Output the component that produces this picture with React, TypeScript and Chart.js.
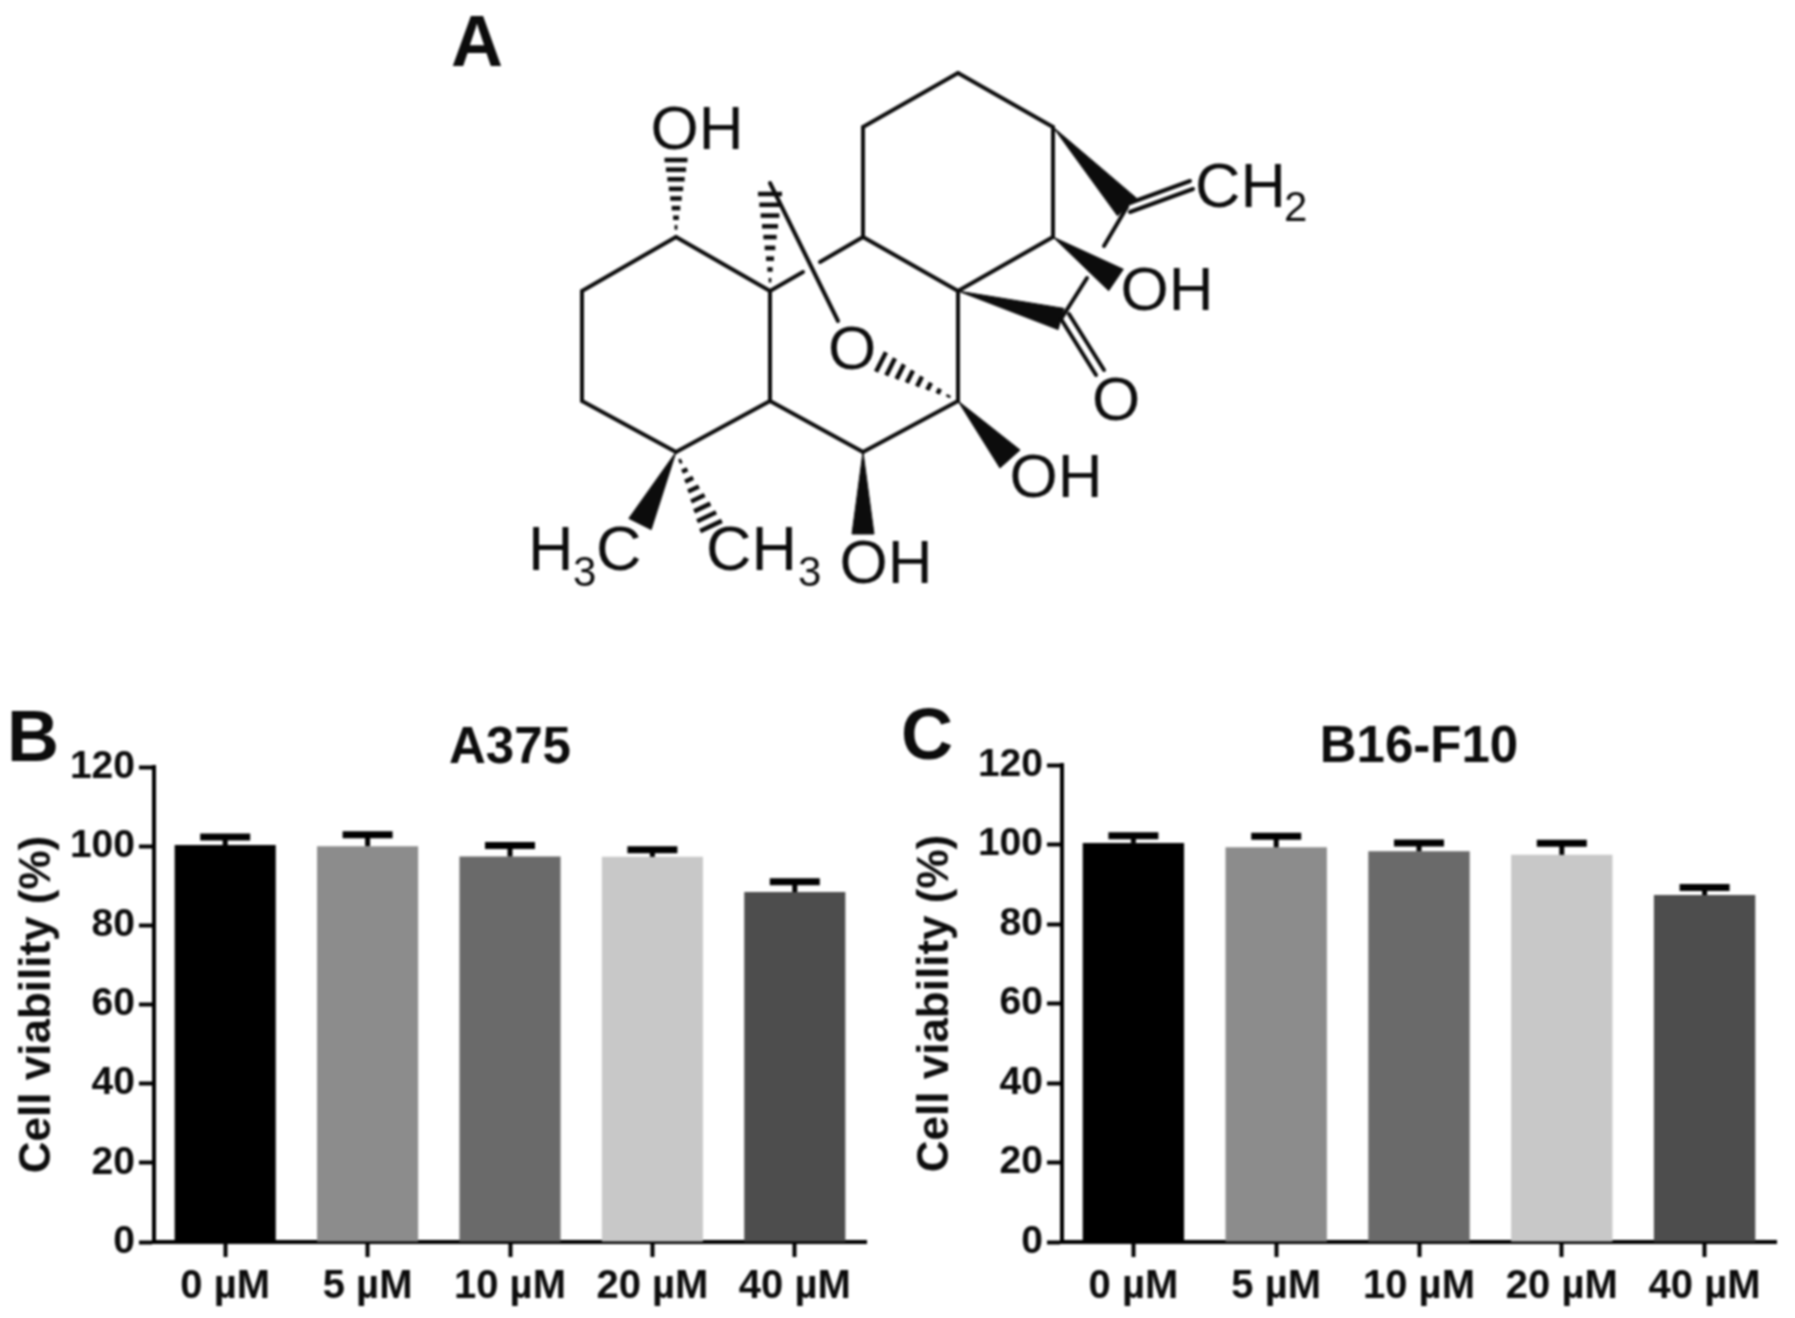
import React, { useEffect, useRef } from "react";
import { Chart, registerables } from "chart.js";

Chart.register(...registerables);

const categories = ["0 µM", "5 µM", "10 µM", "20 µM", "40 µM"];
const yTicks = [0, 20, 40, 60, 80, 100, 120];
const barColors = ["#000000", "#8c8c8c", "#6a6a6a", "#c8c8c8", "#4d4d4d"];
const a375Means = [100.3, 100, 97.4, 97.3, 88.4];
const a375Upper = [102.3, 102.9, 100.2, 99.1, 91];
const b16Means = [100.4, 99.3, 98.3, 97.4, 87.3];
const b16Upper = [102.2, 102.1, 100.4, 100.3, 89.2];

const FONT = '"Liberation Sans", Arial, sans-serif';
const INK = "#0c0c0c";

type P = [number, number];
const atoms: Record<string, P> = {
  a1: [676, 237], a2: [582, 291], a3: [582, 401], a4: [676, 452], a5: [770, 401], a6: [770, 291],
  a7: [863, 452], a8: [958, 401], a9: [958, 291], a10: [863, 237], a11: [863, 127], a12: [958, 73],
  a13: [1053, 127], a14: [1053, 237], a15: [1127, 207], a16: [1061, 319],
  gapA: [803, 272], gapB: [820, 262], apex: [770, 183], oTop: [838, 321],
  g15: [1104, 246], g16: [1087, 278],
  oBondA: [1061, 319], oBondB: [1096, 375], oBondC: [1069, 314], oBondD: [1104, 370],
  chA: [1127, 204], chB: [1190, 181], chC: [1130, 212], chD: [1193, 189],
  hashOH: [676, 160], hashMe: [770, 194], hashO: [881, 362], hashCH3: [711, 526],
  wOH2: [1116, 280], wOH3: [1010, 459], wOH4: [863, 534], wH3C: [640, 524],
};
const bonds: [string, string][] = [
  ["a1", "a2"], ["a2", "a3"], ["a3", "a4"], ["a4", "a5"], ["a5", "a6"], ["a6", "a1"], ["a5", "a7"],
  ["a7", "a8"], ["a8", "a9"], ["a9", "a10"], ["a10", "a11"], ["a11", "a12"], ["a12", "a13"],
  ["a13", "a14"], ["a14", "a9"], ["a6", "gapA"], ["gapB", "a10"], ["apex", "oTop"], ["a15", "g15"],
  ["g16", "a16"], ["oBondA", "oBondB"], ["oBondC", "oBondD"], ["chA", "chB"], ["chC", "chD"],
];
const wedges: [string, string, number][] = [
  ["a13", "a15", 26], ["a14", "wOH2", 26], ["a9", "a16", 22], ["a8", "wOH3", 27], ["a7", "wOH4", 22], ["a4", "wH3C", 25],
];
const hashes: [string, string, number, number][] = [
  ["a1", "hashOH", 23, 8], ["a6", "hashMe", 24, 9], ["a8", "hashO", 22, 8], ["a4", "hashCH3", 24, 8],
];
const labels: { text: string; x: number; y: number; size: number; bold?: boolean; align?: CanvasTextAlign }[] = [
  { text: "A", x: 477, y: 66, size: 72, bold: true },
  { text: "OH", x: 697, y: 149, size: 62 },
  { text: "CH", x: 1195, y: 207, size: 63, align: "left" },
  { text: "2", x: 1284, y: 221, size: 42, align: "left" },
  { text: "OH", x: 1167, y: 310, size: 62 },
  { text: "O", x: 852, y: 369, size: 62 },
  { text: "O", x: 1116, y: 420, size: 62 },
  { text: "OH", x: 1056, y: 497, size: 62 },
  { text: "OH", x: 886, y: 583, size: 62 },
  { text: "H", x: 528, y: 570, size: 63, align: "left" },
  { text: "3", x: 573, y: 586, size: 42, align: "left" },
  { text: "C", x: 596, y: 570, size: 63, align: "left" },
  { text: "CH", x: 706, y: 570, size: 63, align: "left" },
  { text: "3", x: 798, y: 586, size: 42, align: "left" },
];

function normal(p: P, q: P): P {
  const dx = q[0] - p[0], dy = q[1] - p[1], l = Math.hypot(dx, dy);
  return [-dy / l, dx / l];
}

function moleculeDatasets() {
  const base = { showLine: true, pointRadius: 0, borderColor: INK, borderWidth: 4, clip: false };
  const sets: any[] = [];
  for (const [a, b] of bonds) {
    const p = atoms[a], q = atoms[b];
    sets.push({ ...base, borderCapStyle: "round", data: [{ x: p[0], y: p[1] }, { x: q[0], y: q[1] }] });
  }
  for (const [a, b, w] of wedges) {
    const p = atoms[a], q = atoms[b], n = normal(p, q);
    sets.push({
      ...base, borderWidth: 1, backgroundColor: INK, fill: "shape",
      data: [
        { x: p[0], y: p[1] },
        { x: q[0] + (n[0] * w) / 2, y: q[1] + (n[1] * w) / 2 },
        { x: q[0] - (n[0] * w) / 2, y: q[1] - (n[1] * w) / 2 },
        { x: p[0], y: p[1] },
      ],
    });
  }
  for (const [a, b, w, count] of hashes) {
    const p = atoms[a], q = atoms[b], n = normal(p, q);
    for (let i = 1; i <= count; i++) {
      const t = i / count;
      const c: P = [p[0] + (q[0] - p[0]) * t, p[1] + (q[1] - p[1]) * t];
      const h = (w * t) / 2;
      sets.push({
        ...base, borderWidth: 4.5,
        data: [{ x: c[0] + n[0] * h, y: c[1] + n[1] * h }, { x: c[0] - n[0] * h, y: c[1] - n[1] * h }],
      });
    }
  }
  return sets;
}

const labelPlugin = {
  id: "moleculeLabels",
  afterDatasetsDraw(chart: any) {
    const { ctx, scales } = chart;
    ctx.save();
    ctx.fillStyle = INK;
    ctx.textBaseline = "alphabetic";
    for (const l of labels) {
      ctx.font = `${l.bold ? "bold " : ""}${l.size}px ${FONT}`;
      ctx.textAlign = l.align ?? "center";
      ctx.fillText(l.text, scales.x.getPixelForValue(l.x), scales.y.getPixelForValue(l.y));
    }
    ctx.restore();
  },
};

const errorPlugin = {
  id: "errorCaps",
  afterDatasetsDraw(chart: any, _args: any, opts: any) {
    const { ctx, scales } = chart;
    ctx.save();
    ctx.strokeStyle = "#000";
    const means = chart.data.datasets[0].data as number[];
    (opts.upper as number[]).forEach((u, i) => {
      const x = scales.x.getPixelForValue(i);
      const top = scales.y.getPixelForValue(u);
      ctx.lineWidth = 5;
      ctx.beginPath();
      ctx.moveTo(x, scales.y.getPixelForValue(means[i]));
      ctx.lineTo(x, top);
      ctx.stroke();
      ctx.lineWidth = 7;
      ctx.beginPath();
      ctx.moveTo(x - 25, top);
      ctx.lineTo(x + 25, top);
      ctx.stroke();
    });
    ctx.restore();
  },
};

const letterPlugin = {
  id: "panelLetter",
  afterDraw(chart: any, _args: any, opts: any) {
    const { ctx } = chart;
    ctx.save();
    ctx.fillStyle = INK;
    ctx.font = `bold 72px ${FONT}`;
    ctx.textAlign = "center";
    ctx.textBaseline = "alphabetic";
    ctx.fillText(opts.text, opts.x, opts.y);
    ctx.restore();
  },
};

function barConfig(title: string, letter: any, means: number[], upper: number[], g: any) {
  return {
    type: "bar",
    data: {
      labels: categories,
      datasets: [{ data: means, backgroundColor: barColors, categoryPercentage: 1, barPercentage: 0.71 }],
    },
    plugins: [errorPlugin, letterPlugin],
    options: {
      animation: false,
      responsive: false,
      layout: { padding: { top: g.top, right: g.right, left: 0, bottom: 0 } },
      plugins: {
        legend: { display: false },
        tooltip: { enabled: false },
        title: {
          display: true, text: title, fullSize: false, color: INK,
          font: { family: FONT, size: 51, weight: "bold", lineHeight: g.titleLine },
          padding: { top: 0, bottom: 0 },
        },
        errorCaps: { upper },
        panelLetter: letter,
      },
      scales: {
        x: {
          grid: { display: true, drawOnChartArea: false, drawTicks: true, tickLength: 15, tickWidth: 4, tickColor: "#000", offset: false },
          border: { display: true, width: 4, color: "#000" },
          ticks: { color: INK, padding: 6, autoSkip: false, maxRotation: 0, font: { family: FONT, size: 40, weight: "bold" } },
          afterFit: (s: any) => { s.height = g.xHeight; },
        },
        y: {
          min: 0,
          max: 120,
          afterBuildTicks: (s: any) => { s.ticks = yTicks.map((value) => ({ value })); },
          grid: { display: true, drawOnChartArea: false, drawTicks: true, tickLength: 15, tickWidth: 4, tickColor: "#000" },
          border: { display: true, width: 4, color: "#000" },
          ticks: { color: INK, padding: 4, font: { family: FONT, size: 39, weight: "bold" } },
          title: {
            display: true, text: "Cell viability (%)", color: INK,
            font: { family: FONT, size: 44, weight: "bold" },
            padding: { top: g.titleInset, bottom: 0 },
          },
          afterFit: (s: any) => { s.width = g.yWidth; },
        },
      },
    },
  };
}

export default function App() {
  const molRef = useRef<HTMLCanvasElement>(null);
  const bRef = useRef<HTMLCanvasElement>(null);
  const cRef = useRef<HTMLCanvasElement>(null);

  useEffect(() => {
    document.body.style.margin = "0";
    const mol = new Chart(molRef.current!, {
      type: "scatter",
      data: { datasets: moleculeDatasets() },
      plugins: [labelPlugin],
      options: {
        animation: false,
        responsive: false,
        layout: { padding: 0 },
        plugins: { legend: { display: false }, tooltip: { enabled: false } },
        scales: {
          x: { display: false, min: 0, max: 1795 },
          y: { display: false, min: 0, max: 640, reverse: true },
        },
      },
    } as any);
    const b = new Chart(
      bRef.current!,
      barConfig("A375", { text: "B", x: 33, y: 121 }, a375Means, a375Upper, { top: 91, right: 14, xHeight: 76, yWidth: 154, titleInset: 11, titleLine: 0.706 }) as any
    );
    const c = new Chart(
      cRef.current!,
      barConfig("B16-F10", { text: "C", x: 47, y: 119 }, b16Means, b16Upper, { top: 91, right: 19, xHeight: 76, yWidth: 182, titleInset: 29, titleLine: 0.667 }) as any
    );
    return () => {
      mol.destroy();
      b.destroy();
      c.destroy();
    };
  }, []);

  const abs = (left: number, top: number): React.CSSProperties => ({ position: "absolute", left, top, display: "block" });
  return (
    <div style={{ position: "absolute", left: 0, top: 0, width: 1795, height: 1318, background: "#fff", overflow: "hidden", filter: "blur(0.8px)" }}>
      <canvas ref={molRef} width={1795} height={640} style={abs(0, 0)} />
      <canvas ref={bRef} width={880} height={678} style={abs(0, 640)} />
      <canvas ref={cRef} width={915} height={678} style={abs(880, 640)} />
    </div>
  );
}
